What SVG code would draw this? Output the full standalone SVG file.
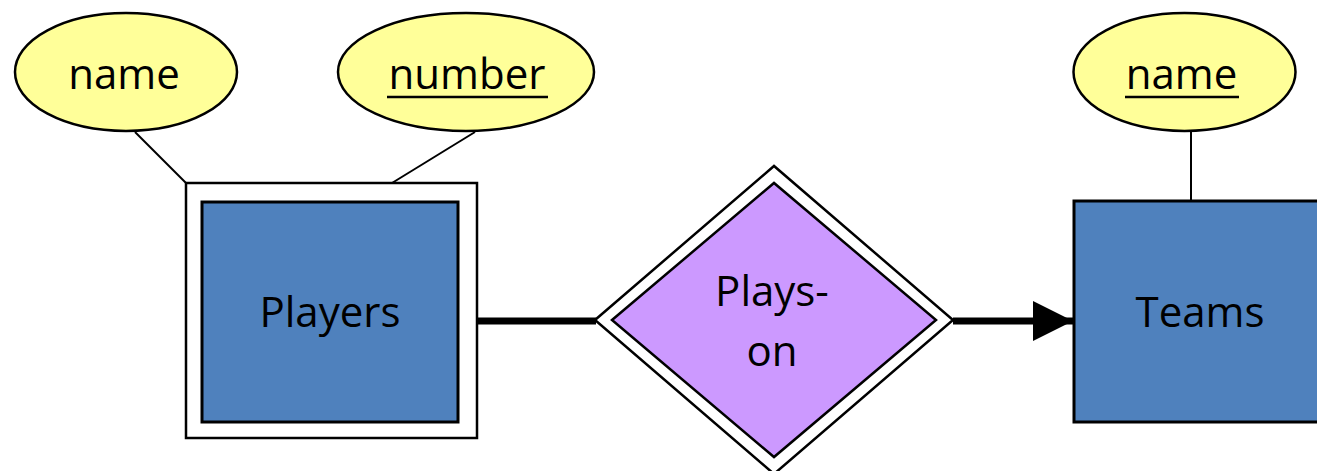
<svg xmlns="http://www.w3.org/2000/svg" width="1317" height="471" viewBox="0 0 1317 471">
<defs>
<style>
.attr{fill:#FFFF99;stroke:#000;stroke-width:2.5}
.ent{fill:#4F81BD;stroke:#000;stroke-width:3}
.outer{fill:#fff;stroke:#000;stroke-width:2.5}
.rel{fill:#CC99FF;stroke:#000;stroke-width:2.5}
.lbl{font-family:"Open Sans","Noto Sans",sans-serif;font-size:42px;fill:#000;text-anchor:middle}
.thin{stroke:#000;stroke-width:2;fill:none}
.thick{stroke:#000;stroke-width:7;fill:none}
.ul{stroke:#000;stroke-width:2.5}
</style>
<marker id="arrow" markerUnits="userSpaceOnUse" markerWidth="42" markerHeight="42" refX="40" refY="20" orient="auto" viewBox="0 0 42 42">
<path d="M0,0 L40,20 L0,40 Z" fill="#000"/>
</marker>
</defs>
<g id="connectors">
<line class="thin" x1="135" y1="132" x2="186" y2="183"/>
<line class="thin" x1="475" y1="132" x2="392" y2="183"/>
<line class="thin" x1="1191" y1="131" x2="1191" y2="201"/>
<line class="thick" x1="477" y1="321" x2="596" y2="321"/>
<line class="thick" x1="953" y1="321" x2="1073" y2="321" marker-end="url(#arrow)"/>
</g>
<g id="attr-name">
<ellipse class="attr" cx="126" cy="72" rx="111" ry="59"/>
<text class="lbl" x="124" y="89">name</text>
</g>
<g id="attr-number">
<ellipse class="attr" cx="466" cy="72" rx="128" ry="59"/>
<text class="lbl" x="467" y="89">number</text>
<line class="ul" x1="387" y1="97" x2="548" y2="97"/>
</g>
<g id="attr-team-name">
<ellipse class="attr" cx="1184.5" cy="72" rx="111" ry="59"/>
<text class="lbl" x="1181.5" y="89">name</text>
<line class="ul" x1="1125" y1="97" x2="1239" y2="97"/>
</g>
<g id="players">
<rect class="outer" x="186" y="183" width="291" height="255"/>
<rect class="ent" x="202" y="202" width="256" height="220"/>
<text class="lbl" x="330" y="327">Players</text>
</g>
<g id="plays-on">
<polygon class="outer" points="595,320 774,166 953,320 774,474"/>
<polygon class="rel" points="612,320 774,183 936,320 774,457"/>
<text class="lbl" x="772" y="306">Plays-</text>
<text class="lbl" x="772" y="366">on</text>
</g>
<g id="teams">
<rect class="ent" x="1074" y="201" width="252" height="221"/>
<text class="lbl" x="1200" y="327">Teams</text>
</g>
</svg>
